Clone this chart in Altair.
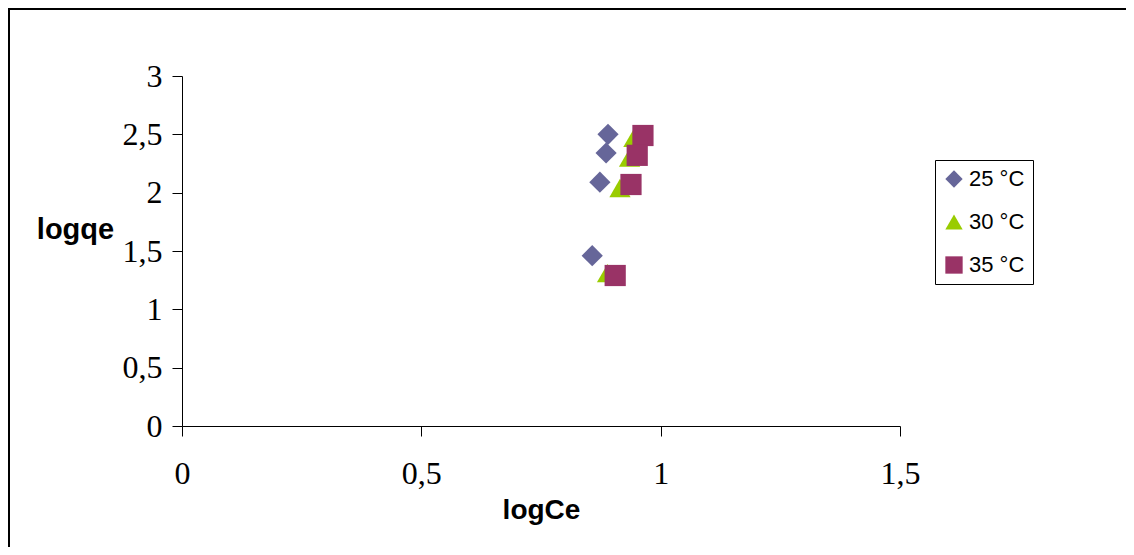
import altair as alt
import pandas as pd

series = ["25 °C", "30 °C", "35 °C"]
x25 = [0.890, 0.886, 0.873, 0.857]
y25 = [2.50, 2.34, 2.09, 1.46]
x30 = [0.944, 0.935, 0.915, 0.889]
y30 = [2.47, 2.30, 2.04, 1.31]
x35 = [0.963, 0.951, 0.938, 0.905]
y35 = [2.49, 2.32, 2.07, 1.29]
x_ticks = [0, 0.5, 1, 1.5]
y_ticks = [0, 0.5, 1, 1.5, 2, 2.5, 3]

rows = []
for name, xs, ys in zip(series, [x25, x30, x35], [y25, y30, y35]):
    for xv, yv in zip(xs, ys):
        rows.append({"series": name, "logCe": xv, "logqe": yv})
df = pd.DataFrame(rows)

W, H = 718, 350
PAD_L, PAD_T = 174, 68
TOTAL_W, TOTAL_H = 1118, 539

legend_opts = dict(title=None, orient="none", legendX=753, legendY=84,
                   strokeColor="black", fillColor="white", padding=8,
                   labelFont="Liberation Sans", labelFontSize=22,
                   labelColor="black", labelOffset=4, rowPadding=21,
                   symbolSize=300, symbolStrokeWidth=0, symbolOpacity=1)

points = alt.Chart(df).mark_point(filled=True, opacity=1, size=450, strokeWidth=0).encode(
    x=alt.X("logCe:Q",
            scale=alt.Scale(domain=[0, 1.5], nice=False, zero=False),
            axis=alt.Axis(values=x_ticks, title="logCe", grid=False,
                          labelExpr="replace(toString(datum.value), '.', ',')",
                          domainColor="black", tickColor="black", tickSize=10,
                          labelFont="Liberation Serif", labelFontSize=32, labelColor="black",
                          labelPadding=22, labelFlush=False,
                          titleFont="Liberation Sans", titleFontSize=28, titleFontWeight="bold",
                          titleColor="black", titleBaseline="alphabetic", titleY=92)),
    y=alt.Y("logqe:Q",
            scale=alt.Scale(domain=[0, 3], nice=False, zero=False),
            axis=alt.Axis(values=y_ticks, title="logqe", grid=False,
                          labelExpr="replace(toString(datum.value), '.', ',')",
                          domainColor="black", tickColor="black", tickSize=10,
                          labelFont="Liberation Serif", labelFontSize=32, labelColor="black",
                          labelPadding=10, labelFlush=False,
                          titleFont="Liberation Sans", titleFontSize=29, titleFontWeight="bold",
                          titleColor="black", titleAngle=0, titleAlign="center",
                          titleBaseline="alphabetic", titleX=-107, titleY=162)),
    color=alt.Color("series:N",
                    scale=alt.Scale(domain=series, range=["#666699", "#99CC00", "#993366"]),
                    legend=alt.Legend(**legend_opts)),
    shape=alt.Shape("series:N",
                    scale=alt.Scale(domain=series, range=["diamond", "triangle-up", "square"]),
                    legend=alt.Legend(**legend_opts)),
)

frame_df = pd.DataFrame({"k": [0]})
top_line = alt.Chart(frame_df).mark_rule(color="black", strokeWidth=2).encode(
    x=alt.value(-PAD_L), x2=alt.value(TOTAL_W - PAD_L), y=alt.value(-PAD_T + 1))
left_line = alt.Chart(frame_df).mark_rule(color="black", strokeWidth=2).encode(
    x=alt.value(-PAD_L + 1), y=alt.value(-PAD_T), y2=alt.value(TOTAL_H - PAD_T))

chart = alt.layer(top_line, left_line, points).properties(
    width=W, height=H,
    background="white",
    autosize=alt.AutoSizeParams(type="none"),
    padding={"left": PAD_L, "top": PAD_T, "right": TOTAL_W - PAD_L - W, "bottom": TOTAL_H - PAD_T - H},
).configure_view(strokeWidth=0, stroke="transparent")

chart.save("out.html", embed_options={"renderer": "svg", "actions": False})
